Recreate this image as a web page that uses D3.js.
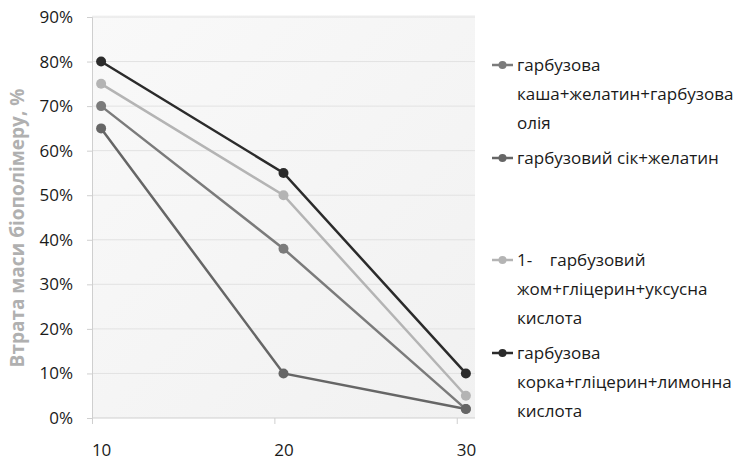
<!DOCTYPE html>
<html lang="uk">
<head>
<meta charset="utf-8">
<script src="https://cdn.jsdelivr.net/npm/d3@7"></script>
<style>
  body { margin: 0; background: #fff; }
  text { font-family: "Open Sans", "Liberation Sans", sans-serif; }
</style>
</head>
<body>
<script>
// data
var xValues = [10, 20, 30];
var yTicks = [0, 0.1, 0.2, 0.3, 0.4, 0.5, 0.6, 0.7, 0.8, 0.9];
var seriesNames = [
  ["гарбузова", "каша+желатин+гарбузова", "олія"],
  ["гарбузовий сік+желатин"],
  ["1-    гарбузовий", "жом+гліцерин+уксусна", "кислота"],
  ["гарбузова", "корка+гліцерин+лимонна", "кислота"]
];
var kashaValues = [0.70, 0.38, 0.02];
var sikValues = [0.65, 0.10, 0.02];
var zhomValues = [0.75, 0.50, 0.05];
var korkaValues = [0.80, 0.55, 0.10];
var seriesColors = ["#7b7b7b", "#666666", "#b4b4b4", "#2b2b2b"];
var yTitle = "Втрата маси біополімеру, %";

var series = [kashaValues, sikValues, zhomValues, korkaValues].map(function(v, i) {
  return { name: seriesNames[i], color: seriesColors[i],
           points: v.map(function(y, j) { return { x: xValues[j], y: y }; }) };
});

var w = 738, h = 461;
var svg = d3.select("body").append("svg").attr("width", w).attr("height", h);

var x = d3.scaleLinear().domain([9.5, 30.5]).range([92, 475]);
var y = d3.scaleLinear().domain([0, 0.9]).range([418, 17]);

var grad = svg.append("defs").append("linearGradient")
  .attr("id", "bg").attr("x1", 0).attr("y1", 0).attr("x2", 1).attr("y2", 1);
grad.append("stop").attr("offset", "0%").attr("stop-color", "#f9f9f9");
grad.append("stop").attr("offset", "100%").attr("stop-color", "#f1f1f1");

svg.append("rect")
  .attr("x", x(9.5)).attr("y", y(0.9) - 2)
  .attr("width", x(30.5) - x(9.5)).attr("height", y(0) - y(0.9) + 2)
  .attr("fill", "url(#bg)");

// grid
svg.append("g").selectAll("line").data(yTicks.slice(1)).enter().append("line")
  .attr("x1", x(9.5)).attr("x2", x(30.5))
  .attr("y1", function(d) { return y(d); }).attr("y2", function(d) { return y(d); })
  .attr("stroke", "#e2e2e2").attr("stroke-width", 1);

// y axis
var yAxis = d3.axisLeft(y).tickValues(yTicks).tickFormat(d3.format(".0%")).tickSize(5).tickPadding(14);
var gy = svg.append("g").attr("transform", "translate(" + x(9.5) + ",0)").call(yAxis);
gy.select(".domain").attr("stroke", "#cfcfcf");
gy.selectAll(".tick line").attr("stroke", "#cfcfcf");
gy.selectAll(".tick text").attr("font-size", 17).attr("fill", "#1a1a1a")
  .style("font-family", "'Open Sans', sans-serif");

// x axis
var xAxis = d3.axisBottom(x).tickValues(xValues).tickFormat(d3.format("d")).tickSize(0).tickPadding(26);
var gx = svg.append("g").attr("transform", "translate(0," + y(0) + ")").call(xAxis);
gx.select(".domain").attr("stroke", "#cfcfcf").attr("d", "M" + x(9.5) + ",0H" + x(30.5));
gx.selectAll(".tick text").attr("font-size", 17).attr("fill", "#1a1a1a")
  .style("font-family", "'Open Sans', sans-serif");
gx.selectAll(".tick").append("line")
  .attr("x1", function(d) { return x(d - 0.5) - x(d); })
  .attr("x2", function(d) { return x(d - 0.5) - x(d); })
  .attr("y1", 0).attr("y2", 6).attr("stroke", "#cfcfcf");

// y title
svg.append("text")
  .attr("transform", "translate(24," + 228 + ") rotate(-90)")
  .attr("text-anchor", "middle")
  .attr("font-size", 19).attr("font-weight", "bold").attr("fill", "#b0b0b0")
  .text(yTitle);

// lines
var line = d3.line().x(function(d) { return x(d.x); }).y(function(d) { return y(d.y); });
var sg = svg.append("g").selectAll("g").data(series).enter().append("g");
sg.append("path")
  .attr("d", function(d) { return line(d.points); })
  .attr("fill", "none").attr("stroke", function(d) { return d.color; }).attr("stroke-width", 2.5);
sg.selectAll("circle").data(function(d) { return d.points.map(function(p) { return { p: p, c: d.color }; }); })
  .enter().append("circle")
  .attr("cx", function(d) { return x(d.p.x); }).attr("cy", function(d) { return y(d.p.y); })
  .attr("r", 5).attr("fill", function(d) { return d.c; });

// legend
var legendStart = [65, 158, 260, 353];
var lineH = 29;
var lg = svg.append("g").selectAll("g").data(series).enter().append("g")
  .attr("transform", function(d, i) { return "translate(0," + legendStart[i] + ")"; });
lg.append("line").attr("x1", 492).attr("x2", 513).attr("y1", 0).attr("y2", 0)
  .attr("stroke", function(d) { return d.color; }).attr("stroke-width", 2.5);
lg.append("circle").attr("cx", 502.5).attr("cy", 0).attr("r", 4)
  .attr("fill", function(d) { return d.color; });
lg.each(function(d) {
  var g = d3.select(this);
  d.name.forEach(function(t, k) {
    g.append("text").attr("x", 517).attr("y", k * lineH).attr("dy", "0.35em")
      .attr("font-size", 17).attr("fill", "#1a1a1a")
      .style("white-space", "pre")
      .text(t);
  });
});
</script>
</body>
</html>
